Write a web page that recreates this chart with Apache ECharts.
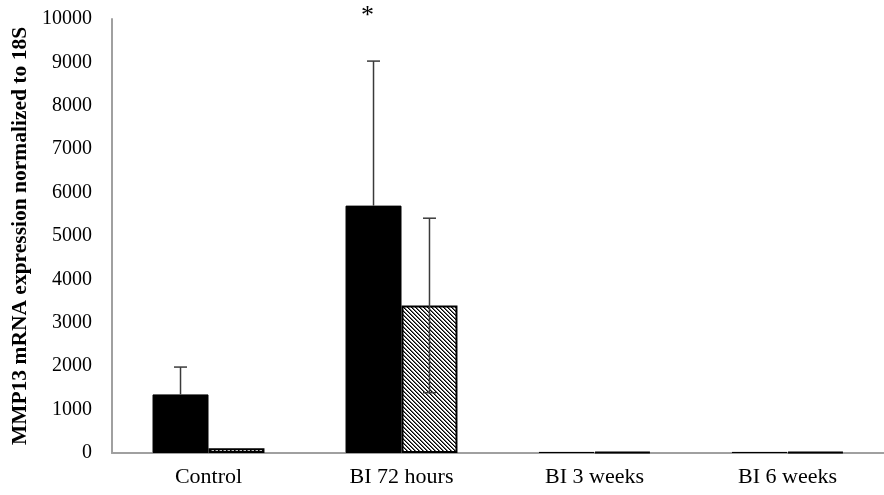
<!DOCTYPE html>
<html>
<head>
<meta charset="utf-8">
<script src="https://cdn.jsdelivr.net/npm/echarts@6/dist/echarts.min.js"></script>
<style>html,body{margin:0;padding:0;background:#fff;}#c{width:884px;height:495px;}</style>
</head>
<body>
<div id="c"></div>
<script>
var categories = ['Control', 'BI 72 hours', 'BI 3 weeks', 'BI 6 weeks'];
var blackValues = [1350, 5700, 25, 25];
var blackErr = [630, 3330, 0, 0];
var hatchValues = [110, 3400, 25, 25];
var hatchErr = [0, 2010, 0, 0];
var yTicks = [0, 1000, 2000, 3000, 4000, 5000, 6000, 7000, 8000, 9000, 10000];
var yTitle = 'MMP13 mRNA expression normalized to 18S';
var significance = [{ cat: 1, text: '*' }];

var FONT = '"Liberation Serif", "Times New Roman", serif';
var GAP = 0.42; // category gap fraction

// hatch pattern canvas
var pc = document.createElement('canvas');
pc.width = 4; pc.height = 4;
var pctx = pc.getContext('2d');
pctx.fillStyle = '#ffffff';
pctx.fillRect(0, 0, 4, 4);
for (var i = 0; i < 4; i++) {
  pctx.fillStyle = '#000000';
  pctx.fillRect(i, i, 1, 1);
  pctx.fillStyle = '#6a6a6a';
  pctx.fillRect((i + 1) % 4, i, 1, 1);
}

function errData(vals, errs, both) {
  return vals.map(function (v, i) {
    return [i, both ? v - errs[i] : v, v + errs[i], errs[i]];
  });
}

function errRender(sign) {
  return function (params, api) {
    if (api.value(3) <= 0) return null;
    var idx = api.value(0);
    var band = api.size([1, 0])[0];
    var off = sign * band * (1 - GAP) / 4;
    var x = api.coord([idx, 0])[0] + off;
    var yl = api.coord([idx, api.value(1)])[1];
    var yh = api.coord([idx, api.value(2)])[1];
    var cap = 6.5;
    var st = { stroke: '#3a3a3a', lineWidth: 1.5 };
    return {
      type: 'group',
      children: [
        { type: 'line', shape: { x1: x, y1: yl, x2: x, y2: yh }, style: st },
        { type: 'line', shape: { x1: x - cap, y1: yh, x2: x + cap, y2: yh }, style: st },
        { type: 'line', shape: { x1: x - cap, y1: yl, x2: x + cap, y2: yl }, style: st, invisible: sign < 0 }
      ]
    };
  };
}

var chart = echarts.init(document.getElementById('c'), null, { renderer: 'canvas' });
chart.setOption({
  animation: false,
  backgroundColor: '#ffffff',
  grid: { left: 112, right: 0, top: 19, bottom: 42, containLabel: false, outerBoundsMode: 'none' },
  xAxis: {
    type: 'category',
    data: categories,
    axisLine: { lineStyle: { color: '#a0a0a0', width: 2 } },
    axisTick: { show: false },
    axisLabel: { color: '#000', fontFamily: FONT, fontSize: 22, margin: 13 }
  },
  yAxis: {
    type: 'value',
    min: yTicks[0],
    max: yTicks[yTicks.length - 1],
    interval: yTicks[1] - yTicks[0],
    splitLine: { show: false },
    axisLine: { show: true, lineStyle: { color: '#a0a0a0', width: 2 } },
    axisTick: { show: false },
    axisLabel: { color: '#000', fontFamily: FONT, fontSize: 20, margin: 20,
      formatter: function (v) { return String(v); } },
    name: yTitle,
    nameLocation: 'middle',
    nameGap: 80,
    nameTextStyle: { color: '#000', fontFamily: FONT, fontSize: 21.5, fontWeight: 'bold' }
  },
  series: [
    {
      type: 'bar',
      data: blackValues,
      barGap: '0%',
      barCategoryGap: (GAP * 100) + '%',
      itemStyle: { color: '#000000', borderColor: '#000000', borderWidth: 1 }
    },
    {
      type: 'bar',
      data: hatchValues,
      barGap: '0%',
      barCategoryGap: (GAP * 100) + '%',
      itemStyle: { color: { image: pc, repeat: 'repeat' }, borderColor: '#000000', borderWidth: 2 }
    },
    {
      type: 'custom',
      data: errData(blackValues, blackErr, false),
      renderItem: errRender(-1),
      z: 5
    },
    {
      type: 'custom',
      data: errData(hatchValues, hatchErr, true),
      renderItem: errRender(1),
      z: 5
    },
    {
      type: 'custom',
      data: significance.map(function (s) { return [s.cat, yTicks[yTicks.length - 1]]; }),
      renderItem: function (params, api) {
        var band = api.size([1, 0])[0];
        var p = api.coord([api.value(0), api.value(1)]);
        return {
          type: 'text',
          x: p[0] - band * (1 - GAP) / 4 - 6,
          y: p[1] - 3,
          style: {
            text: significance[params.dataIndex].text,
            fontFamily: FONT, fontSize: 26, fill: '#000',
            align: 'center', verticalAlign: 'middle'
          }
        };
      },
      clip: false,
      z: 6
    }
  ]
});
</script>
</body>
</html>
